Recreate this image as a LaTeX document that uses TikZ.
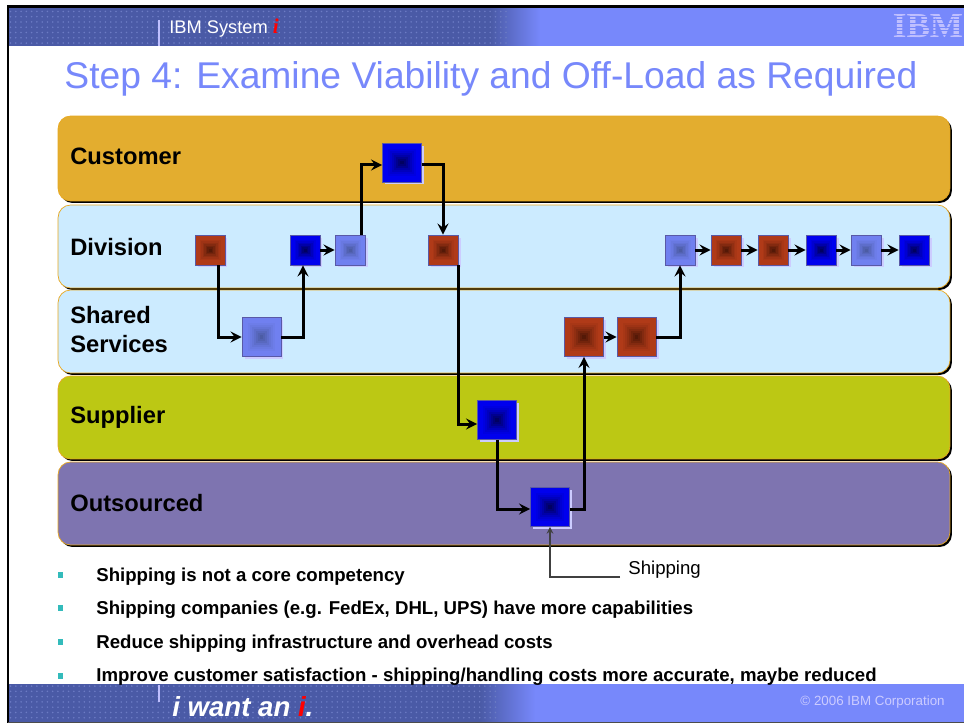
\documentclass[tikz,border=0pt]{standalone}
\usepackage{fontspec}
\setmainfont{Liberation Sans}
\newfontfamily\serifbold{Liberation Serif}
\usetikzlibrary{positioning,calc,shadows,patterns}
\definecolor{bandlight}{HTML}{7788FB}
\definecolor{banddark}{HTML}{4A5AA6}
\definecolor{bandspot}{HTML}{6C7BC4}
\definecolor{custcolor}{HTML}{E3AD2F}
\definecolor{divcolor}{HTML}{CCEBFF}
\definecolor{supcolor}{HTML}{BCC814}
\definecolor{outcolor}{HTML}{7E74B0}
\definecolor{edgeorange}{HTML}{E8A820}
\definecolor{boxred}{HTML}{B03A18}
\definecolor{boxreddark}{HTML}{4A1505}
\definecolor{boxblue}{HTML}{0000EE}
\definecolor{boxbluedark}{HTML}{000050}
\definecolor{boxlight}{HTML}{7080F0}
\definecolor{boxlightdark}{HTML}{48589C}
\definecolor{teal}{HTML}{33BBBB}
\begin{document}
\begin{tikzpicture}[
    x=0.02cm, y=-0.02cm,
    lane/.style={rectangle, draw=edgeorange, line width=0.4pt, minimum width=17.84cm, rounded corners=0.25cm, inner sep=0pt,
        general shadow={fill=black, shadow xshift=0.04cm, shadow yshift=-0.04cm}},
    lanetext/.style={anchor=west, font=\fontsize{13.5pt}{16.4pt}\selectfont\bfseries, align=left, inner sep=0pt},
    box/.style 2 args={rectangle, draw=gray!70!blue, line width=0.5pt, inner sep=0pt,
        general shadow={fill=blue!20, shadow xshift=0.05cm, shadow yshift=-0.05cm},
        path picture={
            \foreach \f/\p in {1/100,.7/92,.6/82,.5/70,.4/56,.3/40,.2/25,.1/10}
                \fill[#1!\p!#2] ($(path picture bounding box.center)!\f!(path picture bounding box.north east)$) rectangle ($(path picture bounding box.center)!\f!(path picture bounding box.south west)$);
        }},
    redbox/.style={box={boxred}{boxreddark}},
    bluebox/.style={box={boxblue}{boxbluedark}},
    lightbox/.style={box={boxlight}{boxlightdark}},
    small/.style={minimum size=0.6cm},
    big/.style={minimum size=0.78cm},
    flow/.style={->, >=stealth, line width=0.06cm},
    bullet/.style={rectangle, fill=teal, minimum width=0.1cm, minimum height=0.13cm, inner sep=0pt},
    point/.style={anchor=west, inner sep=0pt, font=\fontsize{10.6pt}{12pt}\selectfont\bfseries}
]
    \useasboundingbox (0,0) rectangle (964,723);
    \fill[white] (0,0) rectangle (964,723);

    \fill[bandlight] (9,8) rectangle (964,46);
    \fill[banddark] (9,8) rectangle (490,46);
    \shade[left color=banddark, right color=bandlight] (490,8) rectangle (540,46);
    \fill[pattern=dots, pattern color=bandspot] (9,8) rectangle (510,46);
    \fill[bandlight] (8,684) rectangle (964,722);
    \fill[banddark] (8,684) rectangle (480,722);
    \shade[left color=banddark, right color=bandlight] (480,684) rectangle (535,722);
    \fill[pattern=dots, pattern color=bandspot] (8,684) rectangle (500,722);
    \draw[black, line width=0.05cm] (8,723) -- (8,6.5) -- (964,6.5);
    \draw[black!70, line width=0.02cm] (8,722.5) -- (964,722.5);
    \draw[white!75!blue, line width=0.03cm] (159,20) -- (159,46);
    \draw[white!75!blue, line width=0.03cm] (159,685) -- (159,702);

    \node[anchor=west, inner sep=0pt, white, font=\fontsize{10.4pt}{12pt}\selectfont] (system) at (169,28) {IBM System {\serifbold\color{red}\bfseries\itshape\fontsize{12pt}{12pt}\selectfont i}};
    \node[inner sep=0pt, white!75!blue, font=\serifbold\bfseries\fontsize{20pt}{20pt}\selectfont] (ibm) at (928,26) {IBM};
    \foreach \s in {0,...,5}
        \fill[bandlight] (890,15.7+\s*3.7) rectangle (964,16.5+\s*3.7);
    \node[bandlight, inner sep=0pt, font=\fontsize{21.2pt}{24pt}\selectfont] (title) at (491,79) {Step 4: Examine Viability and Off-Load as Required};

    \node[lane, fill=custcolor, minimum height=1.7cm] (customer) at (504,158.5) {};
    \node[lane, fill=divcolor, minimum height=1.66cm] (division) at (504,246.5) {};
    \node[lane, fill=divcolor, minimum height=1.66cm] (shared) at (504,331.5) {};
    \node[lane, fill=supcolor, minimum height=1.66cm] (supplier) at (504,417.5) {};
    \node[lane, fill=outcolor, minimum height=1.66cm] (outsourced) at (504,503.5) {};

    \node[lanetext] (customertext) at (70,156) {Customer};
    \node[lanetext] (divisiontext) at (70,247) {Division};
    \node[lanetext] (sharedtext) at (70,329.5) {Shared\\Services};
    \node[lanetext] (suppliertext) at (70,417.5) {Supplier};
    \node[lanetext] (outsourcedtext) at (70,503) {Outsourced};

    \node[bluebox, big] (c1) at (402,162.5) {};
    \node[redbox, small] (d1) at (210,250) {};
    \node[bluebox, small] (d2) at (305,250) {};
    \node[lightbox, small] (d3) at (350,250) {};
    \node[redbox, small] (d4) at (443,250) {};
    \node[lightbox, small] (d5) at (680,250) {};
    \node[redbox, small] (d6) at (726,250) {};
    \node[redbox, small] (d7) at (773,250) {};
    \node[bluebox, small] (d8) at (821,250) {};
    \node[lightbox, small] (d9) at (866,250) {};
    \node[bluebox, small] (d10) at (914,250) {};
    \node[lightbox, big] (s1) at (261.5,337) {};
    \node[redbox, big] (s2) at (584,337) {};
    \node[redbox, big] (s3) at (636.5,337) {};
    \node[bluebox, big] (u1) at (497,420) {};
    \node[bluebox, big] (o1) at (550,507) {};

    \draw[flow] ([xshift=0.16cm]d1.south) |- (s1.west);
    \draw[flow] (s1.east) -| ([xshift=-0.04cm]d2.south);
    \draw[flow] (d2) -- (d3);
    \draw[flow] ([xshift=0.22cm]d3.north) |- ([yshift=-0.05cm]c1.west);
    \draw[flow] ([yshift=-0.05cm]c1.east) -| (d4.north);
    \draw[flow] ([xshift=0.3cm]d4.south) |- ([yshift=-0.08cm]u1.west);
    \draw[flow] (u1.south) |- ([yshift=-0.04cm]o1.west);
    \draw[flow] ([yshift=-0.04cm]o1.east) -| (s2.south);
    \draw[flow] (s2) -- (s3);
    \draw[flow] (s3.east) -| (d5.south);
    \draw[flow] (d5) -- (d6);
    \draw[flow] (d6) -- (d7);
    \draw[flow] (d7) -- (d8);
    \draw[flow] (d8) -- (d9);
    \draw[flow] (d9) -- (d10);

    \node[anchor=west, inner sep=0pt, font=\fontsize{10.6pt}{12pt}\selectfont] (shipping) at (628,570) {Shipping};
    \draw[->, >=stealth, black!75, line width=0.025cm] ([xshift=-0.16cm,yshift=-0.14cm]shipping.west) -| (o1.south);

    \node[bullet] (b1) at (60,575) {};
    \node[bullet] (b2) at (60,608) {};
    \node[bullet] (b3) at (60,642) {};
    \node[bullet] (b4) at (60,676) {};
    \node[point] (t1) at (96,577) {Shipping is not a core competency};
    \node[point] (t2) at (96,610) {Shipping companies (e.g. FedEx, DHL, UPS) have more capabilities};
    \node[point] (t3) at (96,644) {Reduce shipping infrastructure and overhead costs};
    \node[point] (t4) at (96,677) {Improve customer satisfaction - shipping/handling costs more accurate, maybe reduced};

    \node[anchor=west, inner sep=0pt, white, font=\fontsize{15.7pt}{18pt}\selectfont\bfseries\itshape] (want) at (172,707) {i want an {\color{red}i}.};
    \node[anchor=east, inner sep=0pt, white!80!blue, font=\fontsize{7.6pt}{9pt}\selectfont] (copyright) at (945,702) {© 2006 IBM Corporation};
\end{tikzpicture}
\end{document}
